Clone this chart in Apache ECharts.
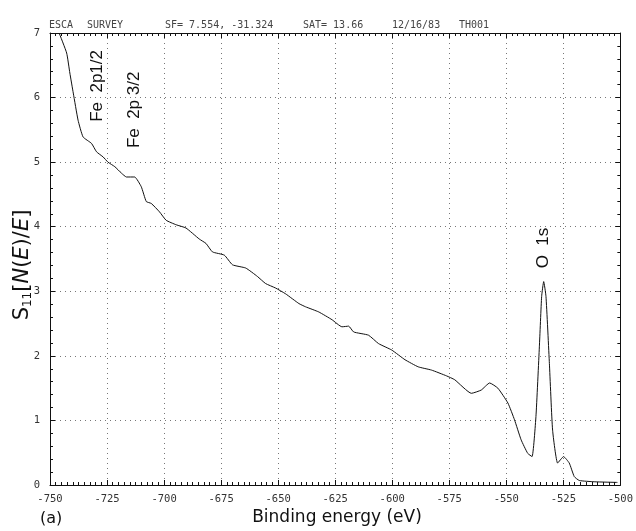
<!DOCTYPE html>
<html><head><meta charset="utf-8">
<script src="https://cdn.jsdelivr.net/npm/echarts@6/dist/echarts.min.js"></script>
<style>html,body{margin:0;padding:0;background:#fff}#c{width:636px;height:531px}</style>
</head><body><div id="c"></div>
<script>
const bindingEnergy = [-746.0,-742.7,-741.3,-739.8,-737.7,-735.5,-731.8,-729.6,-726.7,-724.6,-721.6,-718.7,-716.5,-712.9,-710.0,-707.8,-705.6,-702.0,-699.1,-694.7,-690.4,-684.6,-681.6,-678.8,-673.6,-670.0,-664.2,-659.1,-655.5,-651.1,-646.7,-640.9,-638.0,-632.2,-626.4,-622.0,-619.1,-616.9,-610.4,-606.0,-600.2,-594.4,-588.6,-582.8,-576.2,-572.6,-565.3,-561.0,-557.3,-553.7,-549.3,-546.4,-543.5,-540.6,-538.7,-537.0,-535.5,-534.5,-533.6,-532.6,-531.1,-529.7,-527.5,-524.9,-522.4,-520.2,-518.0,-511.5,-501.3];
const intensity = [7.00,6.69,6.38,6.07,5.65,5.39,5.29,5.16,5.08,5.00,4.93,4.83,4.77,4.77,4.62,4.39,4.36,4.23,4.10,4.03,3.98,3.81,3.74,3.61,3.56,3.41,3.36,3.23,3.12,3.05,2.96,2.81,2.76,2.68,2.56,2.45,2.46,2.37,2.32,2.19,2.09,1.94,1.83,1.78,1.69,1.63,1.42,1.47,1.58,1.50,1.27,1.01,0.70,0.49,0.44,1.06,2.14,2.92,3.15,2.92,1.88,0.85,0.34,0.44,0.34,0.13,0.07,0.05,0.04];
const xTicks = {min:-750, max:-500, step:25};
const yTicks = {min:0, max:7, step:1};
const headerParts = ['ESCA', 'SURVEY', 'SF= 7.554, -31.324', 'SAT= 13.66', '12/16/83', 'TH001'];
const peakLabels = [
  {text:'Fe  2p1/2', x:-729.1, y:6.18},
  {text:'Fe  2p 3/2', x:-712.9, y:5.81},
  {text:'O  1s', x:-533.6, y:3.67}
];

const chart = echarts.init(document.getElementById('c'), null, {renderer:'canvas'});
const tickFont = {fontFamily:'DejaVu Sans Mono', fontSize:10.5, color:'#333'};
const dotted = {show:true, lineStyle:{color:'#777', type:[1,4], width:1}};
function xa(pos, labels){
  return {type:'value', position:pos, min:xTicks.min, max:xTicks.max, interval:xTicks.step,
    axisLine:{show:true, onZero:false, lineStyle:{color:'#111', width:1}},
    axisTick:{show:true, inside:true, length:5, lineStyle:{color:'#111'}},
    minorTick:{show:true, splitNumber:10, length:3, lineStyle:{color:'#111'}},
    splitLine: pos==='bottom' ? dotted : {show:false},
    axisLabel: labels ? Object.assign({show:true, margin:9, formatter:v=>String(v)}, tickFont) : {show:false}};
}
function ya(pos, labels){
  return {type:'value', position:pos, min:yTicks.min, max:yTicks.max, interval:yTicks.step,
    axisLine:{show:true, onZero:false, lineStyle:{color:'#111', width:1}},
    axisTick:{show:true, inside:true, length:5, lineStyle:{color:'#111'}},
    minorTick:{show:true, splitNumber:5, length:3, lineStyle:{color:'#111'}},
    splitLine: pos==='left' ? dotted : {show:false},
    axisLabel: labels ? Object.assign({show:true, margin:10}, tickFont) : {show:false}};
}
chart.setOption({
  animation:false,
  backgroundColor:'#fff',
  grid:{left:50, right:13, top:33, bottom:46},
  xAxis:[xa('bottom', true), xa('top', false)],
  yAxis:[ya('left', true), ya('right', false)],
  series:[{type:'line', data:bindingEnergy.map((x,i)=>[x,intensity[i]]), symbol:'none', smooth:0.15,
    lineStyle:{color:'#111', width:1}}]
});
const g = [];
const headerX = [49, 87, 165, 303, 392, 459];
headerParts.forEach((t,i)=>g.push({type:'text', x:headerX[i], y:25, style:{text:t, font:'10px "DejaVu Sans Mono"', fill:'#444', verticalAlign:'middle'}}));
g.push({type:'text', x:337, y:518, style:{text:'Binding energy (eV)', font:'17px "DejaVu Sans"', fill:'#111', align:'center', verticalAlign:'middle'}});
g.push({type:'text', x:40, y:519, style:{text:'(a)', font:'16px "DejaVu Sans"', fill:'#111', verticalAlign:'middle'}});
g.push({type:'text', x:23, y:265, rotation:Math.PI/2, style:{
  text:'{s|S}{sub|11}{n|[}{i|N}{n|(}{i|E}{n|)/}{i|E}{n|]}', align:'center', verticalAlign:'middle',
  rich:{s:{font:'21px "DejaVu Sans"', fill:'#111'}, sub:{font:'12px "DejaVu Sans"', fill:'#111', padding:[9,0,0,0]},
        n:{font:'21px "DejaVu Sans"', fill:'#111'}, i:{font:'italic 21px "DejaVu Sans"', fill:'#111'}}}});
peakLabels.forEach(p=>{
  const pt = chart.convertToPixel({xAxisIndex:0, yAxisIndex:0}, [p.x, p.y]);
  g.push({type:'text', x:pt[0], y:pt[1], rotation:Math.PI/2, style:{text:p.text, font:'17px "Liberation Sans"', fill:'#111', align:'center', verticalAlign:'middle'}});
});
chart.setOption({graphic:g});
</script></body></html>
